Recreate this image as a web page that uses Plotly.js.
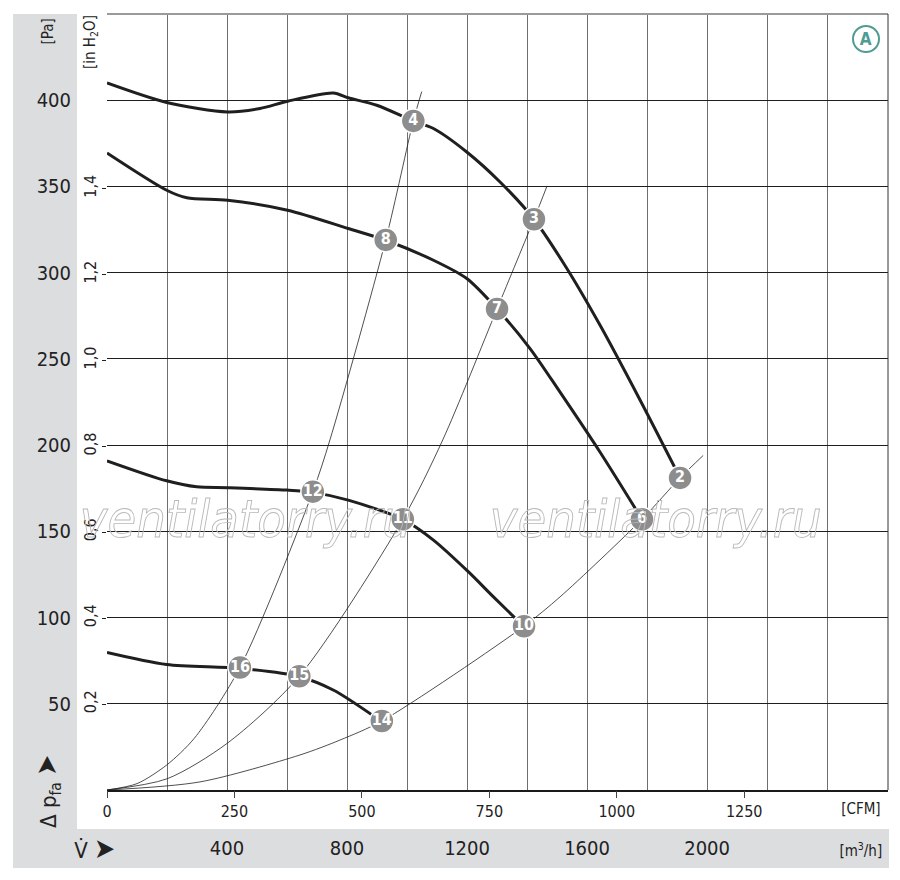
<!DOCTYPE html>
<html>
<head>
<meta charset="utf-8">
<script src="https://cdn.plot.ly/plotly-3.0.1.min.js"></script>
<style>
  html, body { margin: 0; padding: 0; background: #fff; }
  #chart { width: 900px; height: 880px; }
  #chart text { font-stretch: condensed; }
</style>
</head>
<body>
<div id="chart"></div>
<script>
// ---- Data ----
// Fan curves: flow [m3/h], static pressure [Pa]
const curve1X = [0, 199, 402, 510, 602, 754, 804, 899, 1021, 1088, 1199, 1310, 1423, 1527, 1643, 1777, 1910];
const curve1Y = [410, 398.7, 393.2, 395.2, 399.4, 404.2, 401.4, 397.1, 388, 383.6, 370, 352.6, 331, 304, 269.6, 226, 181];
const curve2X = [0, 199, 266, 402, 602, 804, 929, 1088, 1199, 1300, 1410, 1510, 1643, 1783];
const curve2Y = [369.4, 347.8, 343.4, 342, 336.2, 325.6, 318.8, 307.2, 296.6, 279, 256, 230.7, 196, 157];
const curve3X = [0, 199, 299, 402, 602, 686, 804, 986, 1088, 1204, 1288, 1390];
const curve3Y = [190.9, 179.3, 175.8, 175.3, 173.9, 172.6, 168.1, 156.9, 144.9, 126.6, 112, 94.7];
const curve4X = [0, 199, 443, 641, 754, 916];
const curve4Y = [79.8, 72.8, 70.5, 65.7, 58, 39.6];

// System (resistance) curves
const sys1X = [0, 100, 199, 291, 443, 686, 743, 929, 1021, 1049];
const sys1Y = [0, 3.7, 14.5, 30, 71, 173, 203, 319, 388, 405];
const sys2X = [0, 200, 400, 641, 986, 1119, 1300, 1423, 1466];
const sys2Y = [0, 6.5, 27, 66, 157, 203, 279, 331, 350];
const sys3X = [0, 310, 643, 777, 916, 1390, 1510, 1783, 1910, 1987];
const sys3Y = [0, 4.7, 20.3, 29, 40, 95, 112, 157, 181, 194];

// Numbered operating points
const ptLabels = ['2', '3', '4', '6', '7', '8', '10', '11', '12', '14', '15', '16'];
const ptX = [1910, 1423, 1021, 1783, 1300, 929, 1390, 986, 686, 916, 641, 443];
const ptY = [181, 331, 388, 157, 279, 319, 95, 157, 173, 40, 66, 71];

// Axes ticks
const m3hGrid = [0, 200, 400, 600, 800, 1000, 1200, 1400, 1600, 1800, 2000, 2200, 2400, 2600];
const m3hTicks = [400, 800, 1200, 1600, 2000];
const m3hTickText = ['400', '800', '1200', '1600', '2000'];
const cfmTicks = [0, 250, 500, 750, 1000, 1250];
const cfmTickText = ['0', '250', '500', '750', '1000', '1250'];
const paTicks = [50, 100, 150, 200, 250, 300, 350, 400];
const paTickText = ['50', '100', '150', '200', '250', '300', '350', '400'];
const inH2OTicks = [0.2, 0.4, 0.6, 0.8, 1.0, 1.2, 1.4];
const inH2OTickText = ['0,2', '0,4', '0,6', '0,8', '1,0', '1,2', '1,4'];

const X_MAX_M3H = 2603;
const Y_MAX_PA = 450;
const M3H_PER_CFM = 1.699;
const PA_PER_INH2O = 249.089;

const FONT = '"DejaVu Sans", "Liberation Sans", sans-serif';
const INK = '#222222';
const GRIDX = '#6e6e6e';

function fanCurve(x, y) {
  return { x: x, y: y, type: 'scatter', mode: 'lines',
           line: { color: '#1f1f1f', width: 3, shape: 'spline', smoothing: 0.8 },
           hoverinfo: 'skip', showlegend: false };
}
function sysCurve(x, y) {
  return { x: x, y: y, type: 'scatter', mode: 'lines',
           line: { color: '#222', width: 0.8, shape: 'spline', smoothing: 0.8 },
           hoverinfo: 'skip', showlegend: false };
}

const traces = [
  sysCurve(sys1X, sys1Y), sysCurve(sys2X, sys2Y), sysCurve(sys3X, sys3Y),
  fanCurve(curve1X, curve1Y), fanCurve(curve2X, curve2Y),
  fanCurve(curve3X, curve3Y), fanCurve(curve4X, curve4Y),
  { x: ptX, y: ptY, text: ptLabels, type: 'scatter', mode: 'markers+text',
    marker: { size: 24, color: '#8d8d8d', line: { color: '#ffffff', width: 1.5 } },
    textposition: 'middle center',
    textfont: { family: FONT, size: 16, color: '#ffffff', weight: 'bold' },
    hoverinfo: 'skip', showlegend: false },
  // carries the secondary (CFM / in H2O) scales so that they are drawn
  { x: [], y: [], xaxis: 'x2', yaxis: 'y2', type: 'scatter', mode: 'markers',
    hoverinfo: 'skip', showlegend: false }
];

// paper-coordinate helpers (plot area: x 107..888, y 14..790)
const L = 107, R = 888, T = 14, B = 790;
const px = v => (v - L) / (R - L);
const py = v => (B - v) / (B - T);

const bandColor = '#dcdddf';

const layout = {
  width: 900, height: 880,
  margin: { l: L, r: 900 - R, t: T, b: 880 - B, pad: 0 },
  paper_bgcolor: '#ffffff', plot_bgcolor: '#ffffff',
  showlegend: false,
  font: { family: FONT, color: INK },
  xaxis: {
    range: [0, X_MAX_M3H], tickvals: m3hTicks, ticktext: m3hTickText,
    showgrid: true, gridcolor: GRIDX, gridwidth: 1, zeroline: false,
    minor: { tickvals: m3hGrid, showgrid: true, gridcolor: GRIDX, gridwidth: 1, ticks: '' },
    showline: true, linecolor: '#1a1a1a', linewidth: 1.5,
    ticks: '', ticklabelstandoff: 39,
    tickfont: { family: FONT, size: 20, color: INK }, fixedrange: true
  },
  xaxis2: {
    overlaying: 'x', side: 'bottom', anchor: 'y',
    range: [0, X_MAX_M3H / M3H_PER_CFM], tickvals: cfmTicks, ticktext: cfmTickText,
    showgrid: false, zeroline: false, showline: false,
    ticks: 'outside', ticklen: 7, tickcolor: '#444', tickwidth: 1,
    tickfont: { family: FONT, size: 16, color: INK }, fixedrange: true
  },
  yaxis: {
    range: [0, Y_MAX_PA], tickvals: paTicks, ticktext: paTickText,
    showgrid: true, gridcolor: '#1e1e1e', gridwidth: 1, zeroline: false,
    showline: false, ticks: '', ticklabelstandoff: 35,
    tickfont: { family: FONT, size: 20, color: INK }, fixedrange: true
  },
  yaxis2: {
    overlaying: 'y', side: 'left', anchor: 'x2',
    range: [0, Y_MAX_PA / PA_PER_INH2O], tickvals: inH2OTicks, ticktext: inH2OTickText,
    showgrid: false, zeroline: false, showline: false,
    ticks: 'outside', ticklen: 4, tickcolor: '#222', tickwidth: 1, tickangle: -90,
    tickfont: { family: FONT, size: 16, color: INK }, fixedrange: true
  },
  shapes: [
    // grey label bands
    { type: 'rect', xref: 'paper', yref: 'paper', layer: 'below',
      x0: px(13), x1: px(77), y0: py(829), y1: py(14),
      fillcolor: bandColor, line: { width: 0 } },
    { type: 'rect', xref: 'paper', yref: 'paper', layer: 'below',
      x0: px(13), x1: px(889), y0: py(868), y1: py(829),
      fillcolor: bandColor, line: { width: 0 } },
    // top frame
    { type: 'line', xref: 'paper', yref: 'paper', x0: 0, x1: 1, y0: 1, y1: 1,
      line: { color: '#9a9a9a', width: 2 } },
    // right frame
    { type: 'line', xref: 'paper', yref: 'paper', x0: 1, x1: 1, y0: 0, y1: 1,
      line: { color: '#333', width: 1 } },
    // "A" badge circle
    { type: 'circle', xref: 'paper', yref: 'paper',
      x0: px(853), x1: px(879), y0: py(52), y1: py(26),
      line: { color: '#4f9c93', width: 2 }, fillcolor: 'rgba(0,0,0,0)' }
  ],
  annotations: [
    { xref: 'paper', yref: 'paper', x: px(245), y: py(519), text: 'ventilatorry.ru',
      showarrow: false, font: { family: FONT, size: 52, color: '#ffffff', style: 'italic' },
      xanchor: 'center', yanchor: 'middle' },
    { xref: 'paper', yref: 'paper', x: px(655), y: py(519), text: 'ventilatorry.ru',
      showarrow: false, font: { family: FONT, size: 52, color: '#ffffff', style: 'italic' },
      xanchor: 'center', yanchor: 'middle' },
    { xref: 'paper', yref: 'paper', x: px(48), y: py(31), text: '[Pa]', textangle: -90,
      showarrow: false, font: { size: 15, color: INK }, xanchor: 'center', yanchor: 'middle' },
    { xref: 'paper', yref: 'paper', x: px(91), y: py(42), text: '[in H<sub>2</sub>O]', textangle: -90,
      showarrow: false, font: { size: 15, color: INK }, xanchor: 'center', yanchor: 'middle' },
    { xref: 'paper', yref: 'paper', x: px(47), y: py(792),
      text: 'Δ p<sub>fa</sub> <span style="font-size:28px">➤</span>', textangle: -90,
      showarrow: false, font: { size: 22, color: INK }, xanchor: 'center', yanchor: 'middle' },
    { xref: 'paper', yref: 'paper', x: px(95), y: py(848),
      text: 'V̇ <span style="font-size:28px">➤</span>',
      showarrow: false, font: { size: 22, color: INK }, xanchor: 'center', yanchor: 'middle' },
    { xref: 'paper', yref: 'paper', x: px(861), y: py(809), text: '[CFM]',
      showarrow: false, font: { size: 15, color: INK }, xanchor: 'center', yanchor: 'middle' },
    { xref: 'paper', yref: 'paper', x: px(861), y: py(850), text: '[m<sup>3</sup>/h]',
      showarrow: false, font: { size: 15, color: INK }, xanchor: 'center', yanchor: 'middle' },
    { xref: 'paper', yref: 'paper', x: px(866), y: py(39), text: 'A',
      showarrow: false, font: { size: 17, color: '#4f9c93', weight: 'bold' }, xanchor: 'center', yanchor: 'middle' }
  ]
};

Plotly.newPlot('chart', traces, layout, { displayModeBar: false, staticPlot: true }).then(function () {
  // render the watermark as hollow outlined text like the original
  document.querySelectorAll('text.annotation-text').forEach(function (t) {
    if (t.textContent === 'ventilatorry.ru') {
      t.style.fill = 'none';
      t.style.stroke = '#b9b9b9';
      t.style.strokeWidth = '0.9px';
    }
  });
});
</script>
</body>
</html>
